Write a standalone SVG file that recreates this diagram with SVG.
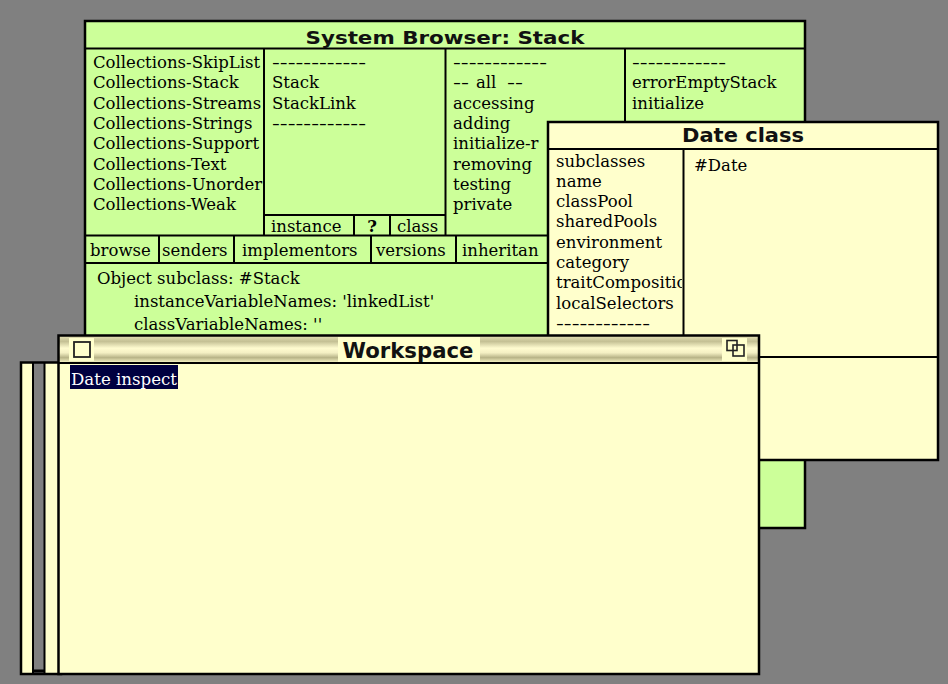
<svg xmlns="http://www.w3.org/2000/svg" width="948" height="684" viewBox="0 0 948 684">
<style>
.bg{fill:#808080}
.grn{fill:#ccff99}
.yel{fill:#ffffcc}
.bd{fill:none;stroke:#000;stroke-width:2.5}
.ln{stroke:#000;stroke-width:2}
.txt{font-family:"DejaVu Serif","Liberation Serif",serif;font-size:16.5px;fill:#000}
.ttl{font-family:"DejaVu Sans","Liberation Sans",sans-serif;font-weight:bold;fill:#111;text-anchor:middle}
</style>
<defs>
<linearGradient id="tbar" x1="0" y1="0" x2="0" y2="1">
<stop offset="0" stop-color="#e4e0b4"/>
<stop offset="0.2" stop-color="#c4c094"/>
<stop offset="0.45" stop-color="#fffcd0"/>
<stop offset="0.62" stop-color="#f4f0c4"/>
<stop offset="0.8" stop-color="#b8b488"/>
<stop offset="1" stop-color="#fffccc"/>
</linearGradient>
<clipPath id="c1"><rect x="86" y="49" width="177" height="186"/></clipPath>
<clipPath id="vis"><rect x="0" y="0" width="948" height="121"/><rect x="0" y="121" width="547" height="213"/></clipPath>
<clipPath id="dl"><rect x="549" y="150" width="133" height="185"/></clipPath>
</defs>
<rect class="bg" x="0" y="0" width="948" height="684"/>

<g id="system-browser">
<rect class="grn" x="85" y="21" width="720" height="507"/>
<line class="ln" x1="85" y1="48.5" x2="805" y2="48.5"/>
<text class="ttl" x="445" y="43.5" font-size="18.5" textLength="279" lengthAdjust="spacingAndGlyphs">System Browser: Stack</text>
<line class="ln" x1="264" y1="48" x2="264" y2="235"/>
<line class="ln" x1="445.5" y1="48" x2="445.5" y2="235"/>
<line class="ln" x1="625" y1="48" x2="625" y2="235"/>
<line class="ln" x1="264" y1="215" x2="445" y2="215"/>
<line class="ln" x1="354" y1="215" x2="354" y2="235"/>
<line class="ln" x1="390" y1="215" x2="390" y2="235"/>
<line class="ln" x1="85" y1="235.5" x2="805" y2="235.5"/>
<line class="ln" x1="85" y1="263" x2="805" y2="263"/>
<line class="ln" x1="159" y1="235" x2="159" y2="263"/>
<line class="ln" x1="234" y1="235" x2="234" y2="263"/>
<line class="ln" x1="371" y1="235" x2="371" y2="263"/>
<line class="ln" x1="456" y1="235" x2="456" y2="263"/>
<g clip-path="url(#c1)">
<text class="txt" x="93" y="68">Collections-SkipList</text>
<text class="txt" x="93" y="88.3">Collections-Stack</text>
<text class="txt" x="93" y="108.6">Collections-Streams</text>
<text class="txt" x="93" y="128.9">Collections-Strings</text>
<text class="txt" x="93" y="149.2">Collections-Support</text>
<text class="txt" x="93" y="169.5">Collections-Text</text>
<text class="txt" x="93" y="189.8">Collections-Unorder</text>
<text class="txt" x="93" y="210.1">Collections-Weak</text>
</g>
<text class="txt" x="272" y="68" textLength="94" lengthAdjust="spacingAndGlyphs">------------</text>
<text class="txt" x="272" y="88.3">Stack</text>
<text class="txt" x="272" y="108.6">StackLink</text>
<text class="txt" x="272" y="128.9" textLength="94" lengthAdjust="spacingAndGlyphs">------------</text>
<text class="txt" x="271" y="232">instance</text>
<text class="txt" x="372" y="232" font-weight="bold" text-anchor="middle">?</text>
<text class="txt" x="397" y="232">class</text>
<g clip-path="url(#vis)">
<text class="txt" x="453" y="68" textLength="94" lengthAdjust="spacingAndGlyphs">------------</text>
<text class="txt" y="88.3"><tspan x="453" textLength="16" lengthAdjust="spacingAndGlyphs">--</tspan><tspan x="476">all</tspan><tspan x="507" textLength="16" lengthAdjust="spacingAndGlyphs">--</tspan></text>
<text class="txt" x="453" y="108.6">accessing</text>
<text class="txt" x="453" y="128.9">adding</text>
<text class="txt" x="453" y="149.2">initialize-r</text>
<text class="txt" x="453" y="169.5">removing</text>
<text class="txt" x="453" y="189.8">testing</text>
<text class="txt" x="453" y="210.1">private</text>
<text class="txt" x="632" y="68" textLength="94" lengthAdjust="spacingAndGlyphs">------------</text>
<text class="txt" x="632" y="88.3">errorEmptyStack</text>
<text class="txt" x="632" y="108.6">initialize</text>
<text class="txt" x="90" y="255.5">browse</text>
<text class="txt" x="162" y="255.5">senders</text>
<text class="txt" x="242" y="255.5">implementors</text>
<text class="txt" x="376" y="255.5">versions</text>
<text class="txt" x="462" y="255.5">inheritan</text>
<text class="txt" x="97" y="284">Object subclass: #Stack</text>
<text class="txt" x="134" y="306.5">instanceVariableNames: 'linkedList'</text>
<text class="txt" x="134" y="330">classVariableNames: ''</text>
</g>
<rect class="bd" x="85" y="21" width="720" height="507"/>
</g>

<g id="date-class">
<rect class="yel" x="548" y="122" width="390" height="338"/>
<line class="ln" x1="548" y1="149" x2="938" y2="149"/>
<text class="ttl" x="743" y="142" font-size="19.5" textLength="122" lengthAdjust="spacingAndGlyphs">Date class</text>
<line class="ln" x1="683.5" y1="149" x2="683.5" y2="357"/>
<line class="ln" x1="548" y1="357" x2="938" y2="357"/>
<g clip-path="url(#dl)">
<text class="txt" x="556" y="166.5">subclasses</text>
<text class="txt" x="556" y="186.8">name</text>
<text class="txt" x="556" y="207.1">classPool</text>
<text class="txt" x="556" y="227.4">sharedPools</text>
<text class="txt" x="556" y="247.7">environment</text>
<text class="txt" x="556" y="268">category</text>
<text class="txt" x="556" y="288.3">traitCompositio</text>
<text class="txt" x="556" y="308.6">localSelectors</text>
<text class="txt" x="556" y="328.9" textLength="94" lengthAdjust="spacingAndGlyphs">------------</text>
</g>
<text class="txt" x="694" y="171">#Date</text>
<rect class="bd" x="548" y="122" width="390" height="338"/>
</g>

<g id="back-window">
<rect class="yel" x="21" y="362" width="40" height="312"/>
<rect x="33" y="363" width="11" height="310" fill="#808080"/>
<line class="ln" x1="33" y1="362" x2="33" y2="674"/>
<line class="ln" x1="44.5" y1="362" x2="44.5" y2="674"/>
<line x1="33" y1="671" x2="45" y2="671" stroke="#000" stroke-width="3"/>
<rect class="bd" x="21" y="362.5" width="40" height="311.5"/>
</g>

<g id="workspace">
<rect class="yel" x="58" y="335" width="701" height="339"/>
<rect x="58" y="336" width="701" height="27" fill="url(#tbar)"/>
<line class="ln" x1="58" y1="363" x2="759" y2="363"/>
<rect x="338" y="337" width="142" height="25" fill="#ffffcc"/>
<text class="ttl" x="408" y="358" font-size="22" textLength="131" lengthAdjust="spacingAndGlyphs">Workspace</text>
<rect x="69" y="338" width="25" height="23" fill="#ffffcc"/>
<rect x="74" y="342" width="16" height="15" fill="none" stroke="#222" stroke-width="1.8"/>
<rect x="722" y="338" width="25" height="23" fill="#ffffcc"/>
<rect x="727" y="340.5" width="10" height="10" fill="#ffffcc" stroke="#222" stroke-width="1.6"/>
<rect x="733" y="345" width="11" height="11" fill="none" stroke="#222" stroke-width="1.6"/>
<rect x="70" y="365" width="108" height="24" fill="#000040"/>
<text class="txt" x="71" y="385" style="fill:#fff" textLength="106" lengthAdjust="spacingAndGlyphs">Date inspect</text>
<rect class="bd" x="58.5" y="335.5" width="700.5" height="338.5"/>
</g>
</svg>
